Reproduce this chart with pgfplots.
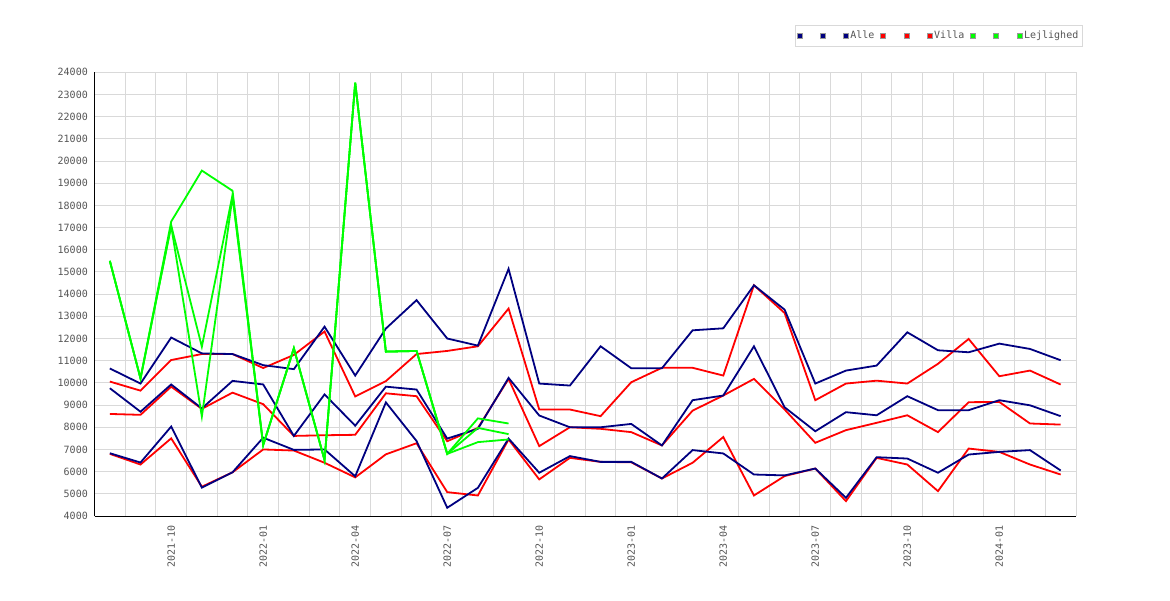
\documentclass[border=0pt]{standalone}
\usepackage{pgfplots}
\pgfplotsset{compat=1.18}
\usepackage{pgfplotstable}
\usepackage{fontspec}
\setmainfont{DejaVu Sans Mono}
\definecolor{navyc}{HTML}{000080}
\definecolor{redc}{HTML}{FF0000}
\definecolor{greenc}{HTML}{00FF00}
\definecolor{gridc}{HTML}{D9D9D9}
\definecolor{labc}{HTML}{555555}

\pgfplotstableread{
x N1 N2 N3 R1 R2 R3
0 10650 9760 6830 10060 8600 6800
1 9970 8700 6410 9650 8560 6320
2 12045 9930 8030 11030 9830 7500
3 11330 8850 5280 11300 8830 5320
4 11300 10090 5970 11300 9560 5970
5 10800 9930 7530 10670 9040 7000
6 10620 7610 6980 11260 7610 6950
7 12535 9480 7000 12315 7640 6400
8 10330 8070 5790 9390 7660 5740
9 12450 9830 9120 10080 9530 6780
10 13730 9700 7380 11300 9400 7280
11 12000 7490 4370 11440 7370 5075
12 11680 7930 5270 11650 7970 4925
13 15140 10225 7490 13350 10180 7450
14 9970 8530 5950 8800 7150 5650
15 9880 8000 6700 8800 8000 6620
16 11650 8000 6440 8500 7930 6440
17 10660 8150 6440 10030 7780 6420
18 10660 7180 5690 10680 7180 5690
19 12370 9220 6970 10680 8750 6400
20 12460 9430 6820 10330 9430 7560
21 14400 11650 5870 14400 10180 4925
22 13300 8900 5830 13150 8800 5800
23 9970 7820 6140 9220 7300 6140
24 10555 8680 4820 9970 7870 4670
25 10780 8540 6650 10100 8200 6620
26 12280 9400 6590 9970 8540 6320
27 11470 8770 5950 10860 7780 5120
28 11380 8770 6770 11980 9130 7040
29 11770 9220 6890 10300 9140 6890
30 11530 8990 6970 10555 8170 6320
31 11020 8500 6050 9925 8120 5870
}\mainT

\pgfplotstableread{
x G1 G2 G3
0 15500 15500 15500
1 10200 10200 10200
2 17270 17100 17070
3 19570 11630 8480
4 18660 18470 18390
5 7200 7200 7200
6 11560 11560 11560
7 6520 6520 6520
8 23530 23530 23530
9 11410 11410 11410
10 11440 11440 11440
11 6800 6800 6800
12 8400 7970 7330
13 8170 7690 7450
}\greenT

\pgfplotsset{
  navyleg/.style={legend image code/.code={\draw[draw=gray!80, fill=navyc, line width=0.6pt] (0pt,-2.5pt) rectangle (5pt,2.5pt);}},
  redleg/.style={legend image code/.code={\draw[draw=gray!80, fill=redc, line width=0.6pt] (0pt,-2.5pt) rectangle (5pt,2.5pt);}},
  greenleg/.style={legend image code/.code={\draw[draw=gray!80, fill=greenc, line width=0.6pt] (0pt,-2.5pt) rectangle (5pt,2.5pt);}},
}
\newcommand{\gap}{\hbox to 9.5pt{\hfil}}

\begin{document}
\begin{tikzpicture}
\path[use as bounding box] (0pt,0pt) rectangle (1170pt,600pt);
\begin{axis}[
  at={(94.5pt,84pt)}, anchor=south west,
  scale only axis, width=981.5pt, height=443.7pt,
  xmin=-0.5, xmax=31.5, ymin=4000, ymax=24000,
  axis x line*=bottom, axis y line*=left,
  axis line style={black, line width=1pt, -},
  xtick={2,5,...,29},
  xticklabels={2021-10,2022-01,2022-04,2022-07,2022-10,2023-01,2023-04,2023-07,2023-10,2024-01},
  minor xtick={-0.5,0.5,...,31.5},
  xminorgrids=true, xmajorgrids=false,
  ytick={4000,5000,...,24000},
  ymajorgrids=true,
  major grid style={gridc, line width=1pt},
  minor grid style={gridc, line width=1pt},
  major tick length=0pt, minor tick length=0pt,
  tick style={draw=none},
  ticklabel style={font=\fontsize{10}{10}\selectfont, text=labc},
  xticklabel style={rotate=90, anchor=east, inner sep=0pt},
  xticklabel shift=9pt,
  yticklabel style={anchor=east, inner sep=0pt},
  yticklabel shift=6.5pt,
  scaled y ticks=false,
  /pgf/number format/assume math mode=true,
  /pgf/number format/.cd, fixed, 1000 sep={}, /pgfplots/.cd,
  legend columns=-1,
  legend style={at={(1,1)}, anchor=south east, xshift=6pt, yshift=26pt,
    draw=gridc, fill=white, inner xsep=1.5pt, inner ysep=4pt,
    font=\fontsize{10}{10}\selectfont, text=labc,
    /tikz/every even column/.append style={column sep=4pt}},
  legend cell align=left,
]
\addlegendimage{navyleg}\addlegendentry{\gap}
\addlegendimage{navyleg}\addlegendentry{\gap}
\addlegendimage{navyleg}\addlegendentry{Alle}
\addlegendimage{redleg}\addlegendentry{\gap}
\addlegendimage{redleg}\addlegendentry{\gap}
\addlegendimage{redleg}\addlegendentry{Villa}
\addlegendimage{greenleg}\addlegendentry{\gap}
\addlegendimage{greenleg}\addlegendentry{\gap}
\addlegendimage{greenleg}\addlegendentry{Lejlighed}

\addplot[redc, line width=1.8pt, forget plot] table[x=x, y=R1] {\mainT};
\addplot[redc, line width=1.8pt, forget plot] table[x=x, y=R2] {\mainT};
\addplot[redc, line width=1.8pt, forget plot] table[x=x, y=R3] {\mainT};
\addplot[navyc, line width=1.8pt, forget plot] table[x=x, y=N1] {\mainT};
\addplot[navyc, line width=1.8pt, forget plot] table[x=x, y=N2] {\mainT};
\addplot[navyc, line width=1.8pt, forget plot] table[x=x, y=N3] {\mainT};
\addplot[greenc, line width=1.8pt, forget plot] table[x=x, y=G1] {\greenT};
\addplot[greenc, line width=1.8pt, forget plot] table[x=x, y=G2] {\greenT};
\addplot[greenc, line width=1.8pt, forget plot] table[x=x, y=G3] {\greenT};
\end{axis}
\end{tikzpicture}
\end{document}
